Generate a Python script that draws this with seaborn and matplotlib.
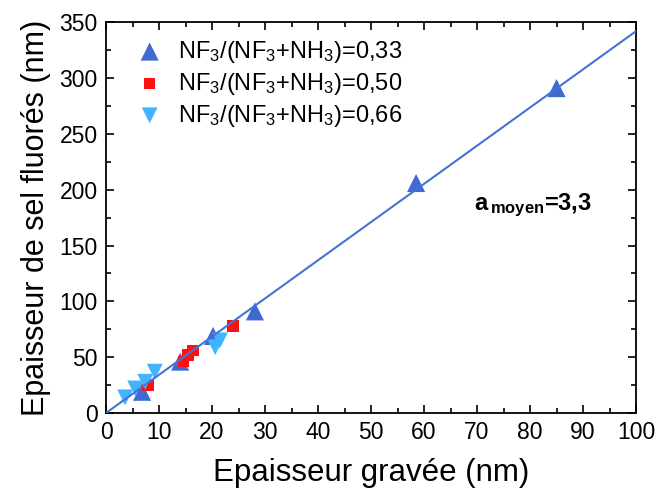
import numpy as np
import pandas as pd
import seaborn as sns
import matplotlib.pyplot as plt
from matplotlib.ticker import MultipleLocator

# series (x = épaisseur gravée, y = épaisseur de sel)
x_033 = [6.8, 14.0, 20.2, 28.1, 58.5, 85.0]
y_033 = [19, 46, 69, 91, 206, 291]
x_050 = [7.9, 14.6, 15.5, 16.4, 24.0]
y_050 = [25, 46, 52, 56, 78]
x_066 = [3.6, 5.5, 7.4, 9.2, 20.6, 21.5]
y_066 = [14, 22, 28, 37, 59, 65]
labels = ['NF$_3$/(NF$_3$+NH$_3$)=0,33',
          'NF$_3$/(NF$_3$+NH$_3$)=0,50',
          'NF$_3$/(NF$_3$+NH$_3$)=0,66']
slope = 3.42
fit_x = np.array([0, 100])

sns.set_style('ticks')
plt.rcParams['font.family'] = ['Liberation Sans', 'DejaVu Sans']
plt.rcParams['mathtext.fontset'] = 'custom'
plt.rcParams['mathtext.rm'] = 'Liberation Sans'
plt.rcParams['mathtext.bf'] = 'Liberation Sans:bold'
plt.rcParams['mathtext.default'] = 'regular'
plt.rcParams['text.color'] = 'black'
plt.rcParams['axes.labelcolor'] = 'black'
plt.rcParams['xtick.color'] = 'black'
plt.rcParams['ytick.color'] = 'black'
plt.rcParams['axes.edgecolor'] = 'black'

df = pd.concat([
    pd.DataFrame({'x': x_033, 'y': y_033, 'serie': labels[0]}),
    pd.DataFrame({'x': x_050, 'y': y_050, 'serie': labels[1]}),
    pd.DataFrame({'x': x_066, 'y': y_066, 'serie': labels[2]}),
])

fig = plt.figure(figsize=(6.56, 4.94), dpi=100)
ax = fig.add_axes([0.1616, 0.164, 0.808, 0.791])

sns.lineplot(x=fit_x, y=slope * fit_x, color='#4473D6', lw=1.5, ax=ax, zorder=3)

colors = ['#4169D2', '#FF1010', '#40B4FF']
markers = ['^', 's', 'v']
sizes = [170, 70, 130]
for lab, c, m, s in zip(labels, colors, markers, sizes):
    sub = df[df['serie'] == lab]
    sns.scatterplot(data=sub, x='x', y='y', color=c, marker=m, s=s,
                    edgecolor='none', label=lab, ax=ax, zorder=2)

ax.set_xlim(0, 100)
ax.set_ylim(0, 350)
ax.xaxis.set_major_locator(MultipleLocator(10))
ax.xaxis.set_minor_locator(MultipleLocator(5))
ax.yaxis.set_major_locator(MultipleLocator(50))
ax.yaxis.set_minor_locator(MultipleLocator(25))
ax.tick_params(which='both', direction='in', top=True, right=True, width=1.2,
               labelsize=16.5)
ax.tick_params(axis='x', pad=6)
ax.tick_params(axis='y', pad=6)
ax.tick_params(which='major', length=6)
ax.tick_params(which='minor', length=3.5)
for sp in ax.spines.values():
    sp.set_linewidth(1.3)

ax.set_xlabel('Epaisseur gravée (nm)', fontsize=22.5, labelpad=10)
ax.set_ylabel('Epaisseur de sel fluorés (nm)', fontsize=22, labelpad=6)

ax.text(69.5, 186, r'$\mathbf{a}_{\mathbf{\,moyen}}$=3,3', fontsize=17,
        fontweight='bold', ha='left', va='center')

leg = ax.legend(loc='upper left', frameon=False, fontsize=17, handletextpad=0.5,
                borderaxespad=0.3, labelspacing=0.25, handlelength=1.4,
                bbox_to_anchor=(0.02, 1.0))

fig.savefig('out.png', dpi=100)
